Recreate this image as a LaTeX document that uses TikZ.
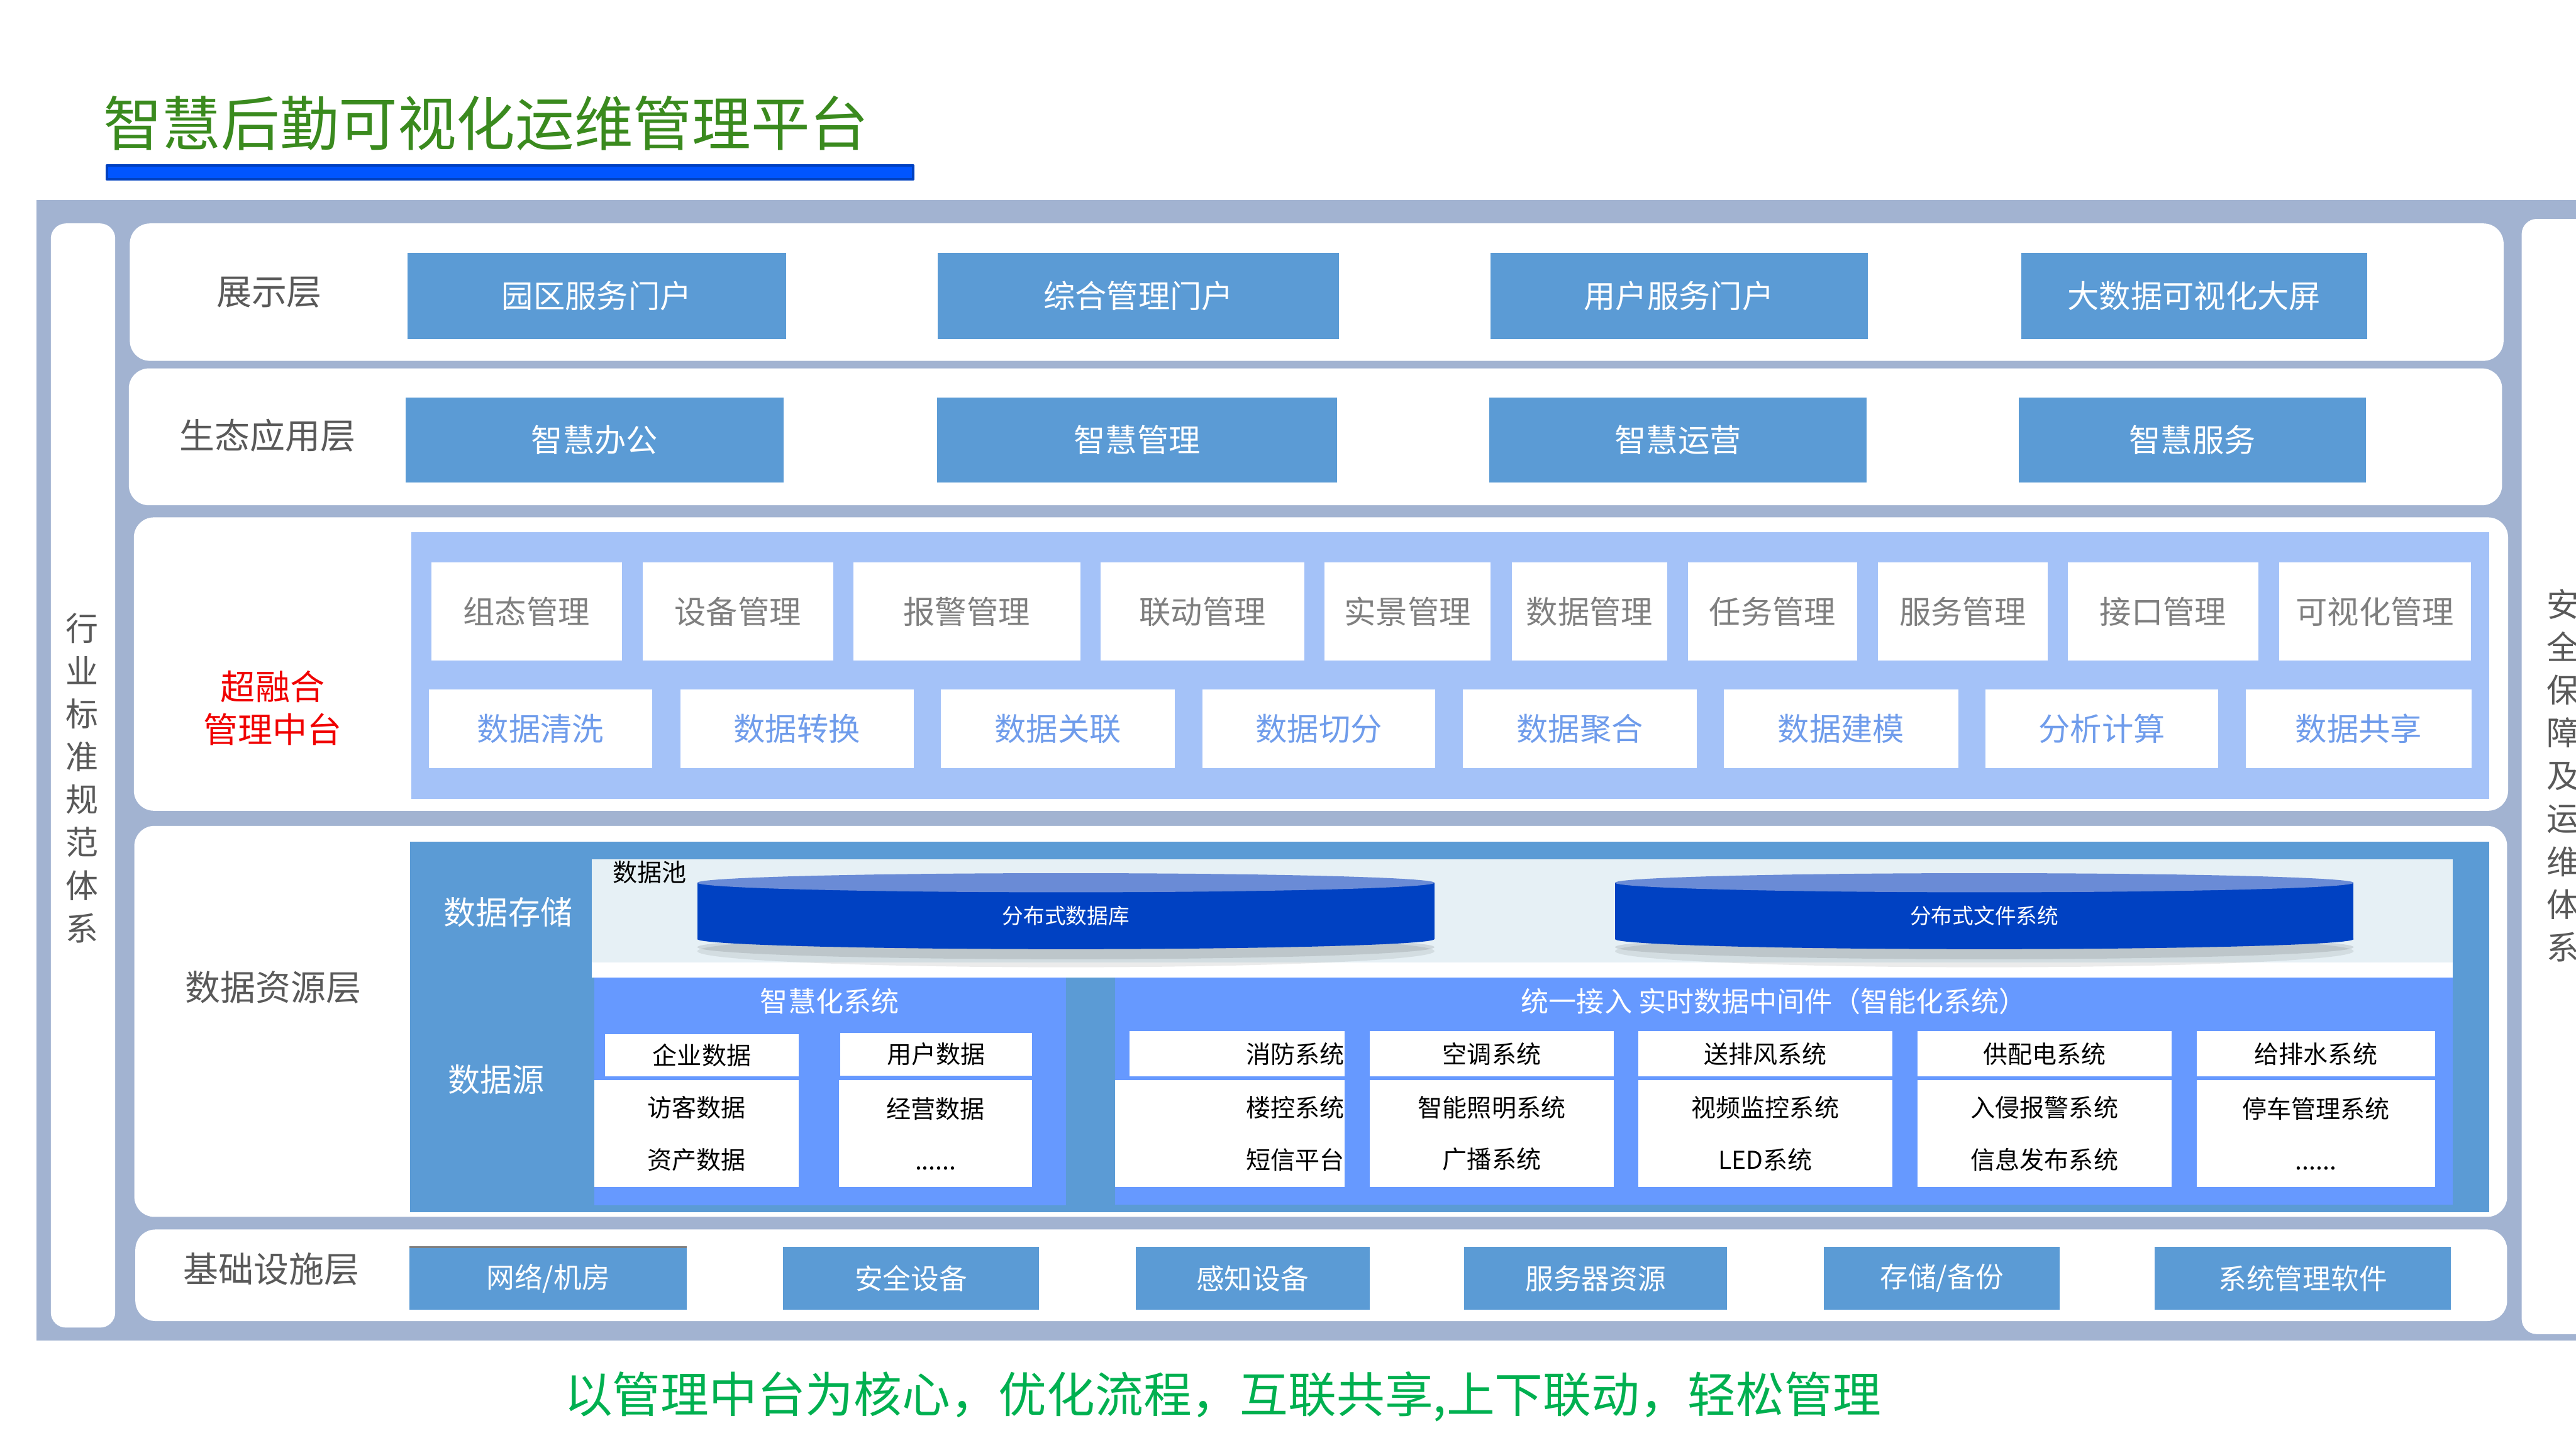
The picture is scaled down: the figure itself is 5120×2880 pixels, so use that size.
\documentclass[tikz,border=0pt]{standalone}
\usepackage{fontspec}
\setmainfont{Noto Sans CJK SC}
\usepackage{xcolor}
\usepackage{tikz}
\usetikzlibrary{positioning}
\definecolor{hqFrame}{HTML}{A2B3D1}
\definecolor{hqBox}{HTML}{5B9BD5}
\definecolor{hqPanel}{HTML}{A4C2F8}
\definecolor{hqSmart}{HTML}{6699FF}
\definecolor{hqPool}{HTML}{E6F0F5}
\definecolor{hqCyl}{HTML}{0041C2}
\definecolor{hqCylTop}{HTML}{6A8BD6}
\definecolor{hqInk}{HTML}{595959}
\definecolor{hqGrey}{HTML}{7F7F7F}
\definecolor{hqBlueText}{HTML}{6F9CEB}
\definecolor{hqTitle}{HTML}{3A8A1E}
\definecolor{hqSlogan}{HTML}{00B050}
\definecolor{hqBar}{HTML}{0055FF}
\definecolor{hqBarEdge}{HTML}{0040C0}
\definecolor{hqRed}{HTML}{F00000}
\tikzset{
  hq diagram/.style={inner sep=0pt, outer sep=0pt, line join=round},
  hq layer/.style={fill=white, rounded corners=4mm},
  hq side/.style={text=hqInk, align=center, font=\fontsize{18.5}{24.2}\selectfont},
  hq label/.style={text=hqInk, font=\fontsize{19.9}{22}\selectfont},
  hq box/.style={fill=hqBox, text=white, font=\fontsize{17.9}{20}\selectfont},
  hq base box/.style={hq box, minimum height=12.4mm, font=\fontsize{15.9}{18}\selectfont},
  hq cell/.style={fill=white, text=hqGrey, font=\fontsize{17.9}{20}\selectfont},
  hq data cell/.style={hq cell, text=hqBlueText, minimum height=15.6mm},
  hq sys cell/.style={fill=white, text=black, align=center, font=\fontsize{13.9}{29.3}\selectfont},
  hq caption/.style={text=white, font=\fontsize{15.7}{18}\selectfont},
  hq cyl/.style={fill=hqCyl},
  hq cyl top/.style={fill=hqCylTop},
  hq cyl text/.style={text=white, font=\fontsize{12}{14}\selectfont}
}
\begin{document}
\begin{tikzpicture}[hq diagram, x=0.1mm, y=-0.1mm]
\fill[white] (0,0) rectangle (5120,2880);
\useasboundingbox (0,0) rectangle (5120,2880);
\clip (0,0) rectangle (5120,2880);
% title
\node[text=hqTitle, font=\fontsize{33.3}{36}\selectfont] (title) at (966,245) {智慧后勤可视化运维管理平台};
\draw[fill=hqBar, draw=hqBarEdge, line width=0.5mm] (212,329) rectangle (1815,356);
% frame and side columns
\fill[hqFrame] (72,398) rectangle (5120,2664);
\fill[hq layer, rounded corners=3mm] (101,444) rectangle (229,2638);
\fill[hq layer, rounded corners=3mm] (5012,435) rectangle (5220,2651);
\node[hq side] (std) at (163,1546) {行\\业\\标\\准\\规\\范\\体\\系};
\node[hq side] (safe) at (5094,1541) {安\\全\\保\\障\\及\\运\\维\\体\\系};
% layers
\fill[hq layer] (258,444) rectangle (4976,717);
\fill[hq layer] (256,732) rectangle (4973,1004);
\fill[hq layer] (266,1028) rectangle (4985,1611);
\fill[hq layer] (267,1641) rectangle (4983,2418);
\fill[hq layer] (269,2443) rectangle (4983,2625);
% display layer
\node[hq label] (showlbl) at (535,581) {展示层};
\foreach \xa/\xb/\txt [count=\i] in {810/1562/园区服务门户,1864/2661/综合管理门户,2962/3712/用户服务门户,4017/4705/大数据可视化大屏}
  \node[hq box, minimum width={(\xb-\xa)*0.1mm}, minimum height=17.2mm] (show\i) at ({(\xa+\xb)/2},588) {\txt};
% application layer
\node[hq label] (applbl) at (532,865) {生态应用层};
\foreach \xa/\xb/\txt [count=\i] in {806/1558/智慧办公,1862/2658/智慧管理,2960/3710/智慧运营,4012/4703/智慧服务}
  \node[hq box, minimum width={(\xb-\xa)*0.1mm}, minimum height=16.9mm] (app\i) at ({(\xa+\xb)/2},874.5) {\txt};
% middle platform
\node[text=hqRed, align=center, font=\fontsize{19.6}{24.2}\selectfont] (midlbl) at (542,1407) {超融合\\管理中台};
\fill[hqPanel] (818,1057) rectangle (4947,1588);
\foreach \xa/\xb/\txt [count=\i] in {857/1236/组态管理,1277/1656/设备管理,1696/2147/报警管理,2187/2593/联动管理,2633/2962/实景管理,3005/3314/数据管理,3355/3691/任务管理,3732/4070/服务管理,4110/4489/接口管理,4530/4911/可视化管理}
  \node[hq cell, minimum width={(\xb-\xa)*0.1mm}, minimum height=19.5mm] (mgr\i) at ({(\xa+\xb)/2},1215) {\txt};
\foreach \xa/\xb/\txt [count=\i] in {853/1296/数据清洗,1352/1816/数据转换,1870/2335/数据关联,2390/2853/数据切分,2908/3372/数据聚合,3426/3893/数据建模,3946/4409/分析计算,4464/4912/数据共享}
  \node[hq data cell, minimum width={(\xb-\xa)*0.1mm}] (proc\i) at ({(\xa+\xb)/2},1448) {\txt};
% data resource layer
\node[hq label] (datalbl) at (543,1962) {数据资源层};
\fill[hqBox] (815,1672) rectangle (4948,2409);
\fill[white] (1176,1707) rectangle (4875,1943);
\fill[hqPool] (1176,1707) rectangle (4875,1912);
\node[text=white, font=\fontsize{18.2}{20}\selectfont] (storelbl) at (1010,1812) {数据存储};
\node[text=white, font=\fontsize{18.2}{20}\selectfont] (srclbl) at (986,2145) {数据源};
\node[text=black, font=\fontsize{13.9}{16}\selectfont] (pool) at (1291,1733) {数据池};
\foreach \xc/\rx/\txt/\nm in {2118.5/73.25/分布式数据库/db,3944/73.4/分布式文件系统/fs}{
  \fill[black, opacity=0.08] (\xc,1890) ellipse [x radius=\rx mm, y radius=3.2mm];
  \fill[black, opacity=0.10] (\xc,1882) ellipse [x radius=\rx mm, y radius=2.4mm];
  \fill[hq cyl] ({\xc-\rx*10},1754) rectangle ({\xc+\rx*10},1866);
  \fill[hq cyl] (\xc,1866) ellipse [x radius=\rx mm, y radius=2mm];
  \fill[hq cyl top] (\xc,1754) ellipse [x radius=\rx mm, y radius=1.9mm];
  \node[hq cyl text] (\nm) at (\xc,1820) {\txt};
}
% smart systems
\fill[hqSmart] (1181,1943) rectangle (2119,2395);
\node[hq caption] (smartlbl) at (1649,1990) {智慧化系统};
\node[hq sys cell, minimum width=38.6mm, minimum height=8.4mm] (corp) at (1395,2097) {企业数据};
\node[hq sys cell, minimum width=38.1mm, minimum height=8.4mm] (user) at (1860.5,2095) {用户数据};
\node[hq sys cell, minimum width=40.7mm, minimum height=21.3mm] (visit) at (1384.5,2252.5) {访客数据\\资产数据};
\node[hq sys cell, minimum width=38.3mm, minimum height=21.3mm] (oper) at (1859.5,2252.5) {经营数据\\......};
% real-time middleware
\fill[hqSmart] (2216,1943) rectangle (4875,2394);
\node[hq caption] (midwlbl) at (3526,1990) {统一接入 实时数据中间件（智能化系统）};
\node[hq sys cell, align=right, minimum width=42.7mm, text width=42.7mm, minimum height=9mm] (sysup0) at (2458.5,2094) {消防系统};
\node[hq sys cell, align=right, minimum width=45.6mm, text width=45.6mm, minimum height=21.3mm] (syslo0) at (2444,2252.5) {楼控系统\\短信平台};
\foreach \xa/\xb/\up/\lo [count=\i] in {2722/3208/空调系统/{智能照明系统\\广播系统},3256/3761/送排风系统/{视频监控系统\\LED系统},3811/4316/供配电系统/{入侵报警系统\\信息发布系统},4366/4840/给排水系统/{停车管理系统\\......}}{
  \node[hq sys cell, minimum width={(\xb-\xa)*0.1mm}, minimum height=9mm] (sysup\i) at ({(\xa+\xb)/2},2094) {\up};
  \node[hq sys cell, minimum width={(\xb-\xa)*0.1mm}, minimum height=21.3mm] (syslo\i) at ({(\xa+\xb)/2},2252.5) {\lo};
}
% infrastructure layer
\node[hq label] (baselbl) at (539,2522) {基础设施层};
\foreach \xa/\xb/\txt [count=\i] in {814/1365/{网络/机房},1556/2065/安全设备,2257/2722/感知设备,2910/3433/服务器资源,3625/4094/{存储/备份},4283/4871/系统管理软件}
  \node[hq base box, minimum width={(\xb-\xa)*0.1mm}] (base\i) at ({(\xa+\xb)/2},2540) {\txt};
\draw[hqGrey, line width=0.4mm] (base1.north west) -- (base1.north east);
% slogan
\node[text=hqSlogan, font=\fontsize{27.3}{30}\selectfont] (slogan) at (2430,2775) {以管理中台为核心，优化流程，互联共享,上下联动，轻松管理};
\end{tikzpicture}
\end{document}
